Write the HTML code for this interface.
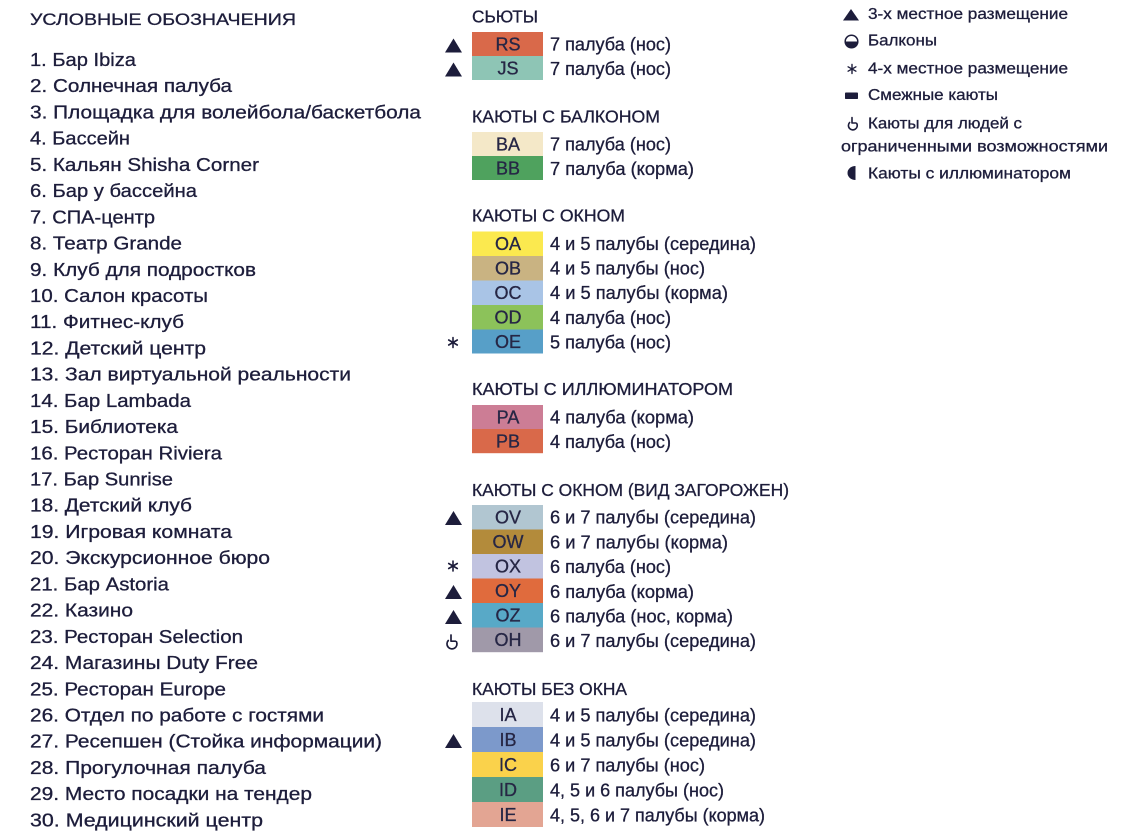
<!DOCTYPE html>
<html><head><meta charset="utf-8"><style>
html,body{margin:0;padding:0;background:#fff;}
svg{display:block;}
text{font-family:"Liberation Sans","DejaVu Sans",sans-serif;fill:#1d1d3b;stroke:#1d1d3b;stroke-width:0.3px;}
.l{font-size:18.5px;}
.t{font-size:16.5px;}
.h{font-size:17.5px;}
.b{font-size:18px;}
.c{font-size:18px;text-anchor:middle;fill:#262645;stroke:#262645;}
.r{font-size:16px;}
</style></head><body>
<svg width="1140" height="834" viewBox="0 0 1140 834" xmlns="http://www.w3.org/2000/svg">
<rect width="1140" height="834" fill="#fff"/>
<!-- LEFT COLUMN -->
<text class="t" x="30" y="25" textLength="266" lengthAdjust="spacingAndGlyphs">УСЛОВНЫЕ ОБОЗНАЧЕНИЯ</text>
<text class="l" x="30" y="66" textLength="106" lengthAdjust="spacingAndGlyphs">1. Бар Ibiza</text>
<text class="l" x="30" y="92.2" textLength="202" lengthAdjust="spacingAndGlyphs">2. Солнечная палуба</text>
<text class="l" x="30" y="118.4" textLength="391" lengthAdjust="spacingAndGlyphs">3. Площадка для волейбола/баскетбола</text>
<text class="l" x="30" y="144.7" textLength="100" lengthAdjust="spacingAndGlyphs">4. Бассейн</text>
<text class="l" x="30" y="170.9" textLength="229" lengthAdjust="spacingAndGlyphs">5. Кальян Shisha Corner</text>
<text class="l" x="30" y="197.1" textLength="167" lengthAdjust="spacingAndGlyphs">6. Бар у бассейна</text>
<text class="l" x="30" y="223.3" textLength="125" lengthAdjust="spacingAndGlyphs">7. СПА-центр</text>
<text class="l" x="30" y="249.5" textLength="152" lengthAdjust="spacingAndGlyphs">8. Театр Grande</text>
<text class="l" x="30" y="275.8" textLength="226" lengthAdjust="spacingAndGlyphs">9. Клуб для подростков</text>
<text class="l" x="30" y="302" textLength="178" lengthAdjust="spacingAndGlyphs">10. Салон красоты</text>
<text class="l" x="30" y="328.2" textLength="154" lengthAdjust="spacingAndGlyphs">11. Фитнес-клуб</text>
<text class="l" x="30" y="354.4" textLength="176" lengthAdjust="spacingAndGlyphs">12. Детский центр</text>
<text class="l" x="30" y="380.6" textLength="321" lengthAdjust="spacingAndGlyphs">13. Зал виртуальной реальности</text>
<text class="l" x="30" y="406.9" textLength="161" lengthAdjust="spacingAndGlyphs">14. Бар Lambada</text>
<text class="l" x="30" y="433.1" textLength="148" lengthAdjust="spacingAndGlyphs">15. Библиотека</text>
<text class="l" x="30" y="459.3" textLength="192" lengthAdjust="spacingAndGlyphs">16. Ресторан Riviera</text>
<text class="l" x="30" y="485.5" textLength="143" lengthAdjust="spacingAndGlyphs">17. Бар Sunrise</text>
<text class="l" x="30" y="511.7" textLength="162" lengthAdjust="spacingAndGlyphs">18. Детский клуб</text>
<text class="l" x="30" y="538" textLength="202" lengthAdjust="spacingAndGlyphs">19. Игровая комната</text>
<text class="l" x="30" y="564.2" textLength="240" lengthAdjust="spacingAndGlyphs">20. Экскурсионное бюро</text>
<text class="l" x="30" y="590.4" textLength="139" lengthAdjust="spacingAndGlyphs">21. Бар Astoria</text>
<text class="l" x="30" y="616.6" textLength="103" lengthAdjust="spacingAndGlyphs">22. Казино</text>
<text class="l" x="30" y="642.8" textLength="213" lengthAdjust="spacingAndGlyphs">23. Ресторан Selection</text>
<text class="l" x="30" y="669.1" textLength="228" lengthAdjust="spacingAndGlyphs">24. Магазины Duty Free</text>
<text class="l" x="30" y="695.3" textLength="196" lengthAdjust="spacingAndGlyphs">25. Ресторан Europe</text>
<text class="l" x="30" y="721.5" textLength="294" lengthAdjust="spacingAndGlyphs">26. Отдел по работе с гостями</text>
<text class="l" x="30" y="747.7" textLength="352" lengthAdjust="spacingAndGlyphs">27. Ресепшен (Стойка информации)</text>
<text class="l" x="30" y="773.9" textLength="236" lengthAdjust="spacingAndGlyphs">28. Прогулочная палуба</text>
<text class="l" x="30" y="800.2" textLength="282" lengthAdjust="spacingAndGlyphs">29. Место посадки на тендер</text>
<text class="l" x="30" y="826.4" textLength="233" lengthAdjust="spacingAndGlyphs">30. Медицинский центр</text>

<!-- MIDDLE COLUMN: headers -->
<text class="h" x="472" y="22.7" textLength="66" lengthAdjust="spacingAndGlyphs">СЬЮТЫ</text>
<text class="h" x="472" y="122.7" textLength="188" lengthAdjust="spacingAndGlyphs">КАЮТЫ С БАЛКОНОМ</text>
<text class="h" x="472" y="221.7" textLength="153" lengthAdjust="spacingAndGlyphs">КАЮТЫ С ОКНОМ</text>
<text class="h" x="472" y="395" textLength="261" lengthAdjust="spacingAndGlyphs">КАЮТЫ С ИЛЛЮМИНАТОРОМ</text>
<text class="h" x="472" y="496" textLength="317" lengthAdjust="spacingAndGlyphs">КАЮТЫ С ОКНОМ (ВИД ЗАГОРОЖЕН)</text>
<text class="h" x="472" y="695" textLength="155" lengthAdjust="spacingAndGlyphs">КАЮТЫ БЕЗ ОКНА</text>

<!-- Boxes -->
<g>
<rect x="472" y="32" width="71" height="24.2" fill="#d9694a"/>
<rect x="472" y="56" width="71" height="24" fill="#8ec5b5"/>

<rect x="472" y="132" width="71" height="24.2" fill="#f4e8c8"/>
<rect x="472" y="156" width="71" height="24" fill="#4fa25e"/>

<rect x="472" y="231.5" width="71" height="24.6" fill="#fbe94f"/>
<rect x="472" y="256" width="71" height="24.6" fill="#c9b382"/>
<rect x="472" y="280.5" width="71" height="24.6" fill="#a9c4e6"/>
<rect x="472" y="305" width="71" height="24.6" fill="#8cc25a"/>
<rect x="472" y="329.5" width="71" height="24" fill="#579fc8"/>

<rect x="472" y="405" width="71" height="24.2" fill="#cc7d95"/>
<rect x="472" y="429" width="71" height="24.2" fill="#d9694a"/>

<rect x="472" y="505" width="71" height="24.7" fill="#b1c6d1"/>
<rect x="472" y="529.5" width="71" height="24.7" fill="#b38b3b"/>
<rect x="472" y="554" width="71" height="24.7" fill="#c1c3e0"/>
<rect x="472" y="578.5" width="71" height="24.7" fill="#e06b3d"/>
<rect x="472" y="603" width="71" height="24.7" fill="#58a9c7"/>
<rect x="472" y="627.5" width="71" height="24.7" fill="#a099a9"/>

<rect x="472" y="702" width="71" height="25.2" fill="#dde1eb"/>
<rect x="472" y="727" width="71" height="25.2" fill="#7c99cb"/>
<rect x="472" y="752" width="71" height="25.2" fill="#fad24b"/>
<rect x="472" y="777" width="71" height="25.2" fill="#5b9e83"/>
<rect x="472" y="802" width="71" height="25" fill="#e3a593"/>
</g>

<!-- Box codes -->
<text class="c" x="508" y="50.5">RS</text>
<text class="c" x="508" y="74.5">JS</text>
<text class="c" x="508" y="150.5">BA</text>
<text class="c" x="508" y="174.5">BB</text>
<text class="c" x="508" y="250">OA</text>
<text class="c" x="508" y="274.5">OB</text>
<text class="c" x="508" y="299">OC</text>
<text class="c" x="508" y="323.5">OD</text>
<text class="c" x="508" y="348">OE</text>
<text class="c" x="508" y="423.3">PA</text>
<text class="c" x="508" y="447.5">PB</text>
<text class="c" x="508" y="523.5">OV</text>
<text class="c" x="508" y="548">OW</text>
<text class="c" x="508" y="572.5">OX</text>
<text class="c" x="508" y="597">OY</text>
<text class="c" x="508" y="621.5">OZ</text>
<text class="c" x="508" y="646">OH</text>
<text class="c" x="508" y="721">IA</text>
<text class="c" x="508" y="746">IB</text>
<text class="c" x="508" y="771">IC</text>
<text class="c" x="508" y="796">ID</text>
<text class="c" x="508" y="821">IE</text>

<!-- Row descriptions -->
<text class="b" x="550" y="50.7" textLength="121" lengthAdjust="spacingAndGlyphs">7 палуба (нос)</text>
<text class="b" x="550" y="75" textLength="121" lengthAdjust="spacingAndGlyphs">7 палуба (нос)</text>
<text class="b" x="550" y="150.7" textLength="121" lengthAdjust="spacingAndGlyphs">7 палуба (нос)</text>
<text class="b" x="550" y="175" textLength="144" lengthAdjust="spacingAndGlyphs">7 палуба (корма)</text>

<text class="b" x="550" y="250" textLength="206" lengthAdjust="spacingAndGlyphs">4 и 5 палубы (середина)</text>
<text class="b" x="550" y="274.6" textLength="155" lengthAdjust="spacingAndGlyphs">4 и 5 палубы (нос)</text>
<text class="b" x="550" y="299.2" textLength="178" lengthAdjust="spacingAndGlyphs">4 и 5 палубы (корма)</text>
<text class="b" x="550" y="323.8" textLength="121" lengthAdjust="spacingAndGlyphs">4 палуба (нос)</text>
<text class="b" x="550" y="348.4" textLength="121" lengthAdjust="spacingAndGlyphs">5 палуба (нос)</text>

<text class="b" x="550" y="423.3" textLength="144" lengthAdjust="spacingAndGlyphs">4 палуба (корма)</text>
<text class="b" x="550" y="447.8" textLength="121" lengthAdjust="spacingAndGlyphs">4 палуба (нос)</text>

<text class="b" x="550" y="523.7" textLength="206" lengthAdjust="spacingAndGlyphs">6 и 7 палубы (середина)</text>
<text class="b" x="550" y="548.4" textLength="178" lengthAdjust="spacingAndGlyphs">6 и 7 палубы (корма)</text>
<text class="b" x="550" y="573.1" textLength="121" lengthAdjust="spacingAndGlyphs">6 палуба (нос)</text>
<text class="b" x="550" y="597.8" textLength="144" lengthAdjust="spacingAndGlyphs">6 палуба (корма)</text>
<text class="b" x="550" y="622.5" textLength="183" lengthAdjust="spacingAndGlyphs">6 палуба (нос, корма)</text>
<text class="b" x="550" y="647.2" textLength="206" lengthAdjust="spacingAndGlyphs">6 и 7 палубы (середина)</text>

<text class="b" x="550" y="721.5" textLength="206" lengthAdjust="spacingAndGlyphs">4 и 5 палубы (середина)</text>
<text class="b" x="550" y="746.5" textLength="206" lengthAdjust="spacingAndGlyphs">4 и 5 палубы (середина)</text>
<text class="b" x="550" y="771.5" textLength="155" lengthAdjust="spacingAndGlyphs">6 и 7 палубы (нос)</text>
<text class="b" x="550" y="796.5" textLength="174" lengthAdjust="spacingAndGlyphs">4, 5 и 6 палубы (нос)</text>
<text class="b" x="550" y="821.5" textLength="215" lengthAdjust="spacingAndGlyphs">4, 5, 6 и 7 палубы (корма)</text>

<!-- Middle symbols -->
<g fill="#1d1d3b">
<polygon points="445,52.5 453.5,38.5 462,52.5"/>
<polygon points="445,76.5 453.5,62.5 462,76.5"/>
<polygon points="445,525 453.5,511 462,525"/>
<polygon points="445,599 453.5,585 462,599"/>
<polygon points="445,624 453.5,610 462,624"/>
<polygon points="445,748 453.5,734 462,748"/>
</g>
<g stroke="#1d1d3b" stroke-width="1.6" stroke-linecap="round">
<line x1="453" y1="337.5" x2="453" y2="347.5"/>
<line x1="448.7" y1="340" x2="457.3" y2="345"/>
<line x1="448.7" y1="345" x2="457.3" y2="340"/>
<line x1="453" y1="561" x2="453" y2="571"/>
<line x1="448.7" y1="563.5" x2="457.3" y2="568.5"/>
<line x1="448.7" y1="568.5" x2="457.3" y2="563.5"/>
</g>
<!-- accessibility icon (OH) -->
<g fill="none" stroke="#1d1d3b" stroke-width="1.7" stroke-linecap="round" stroke-linejoin="round">
<path d="M451,635 V641.2 H455.5"/>
<path d="M448.3,640.5 A5,5 0 1 0 456.5,641.8"/>
</g>

<!-- RIGHT COLUMN -->
<polygon points="843,20.5 851,9 859,20.5" fill="#1d1d3b"/>
<circle cx="851.5" cy="41.5" r="6.3" fill="none" stroke="#1d1d3b" stroke-width="1.5"/>
<path d="M845.2,41.5 A6.3,6.3 0 0 0 857.8,41.5 Z" fill="#1d1d3b"/>
<g stroke="#1d1d3b" stroke-width="1.4" stroke-linecap="round">
<line x1="852" y1="64.5" x2="852" y2="73.5"/>
<line x1="848.1" y1="66.8" x2="855.9" y2="71.2"/>
<line x1="848.1" y1="71.2" x2="855.9" y2="66.8"/>
</g>
<rect x="845" y="92.5" width="13" height="6.5" rx="0.8" fill="#1d1d3b"/>
<g fill="none" stroke="#1d1d3b" stroke-width="1.6" stroke-linecap="round" stroke-linejoin="round">
<path d="M852,117.5 V123 H856"/>
<path d="M849.6,122.5 A4.4,4.4 0 1 0 856.8,123.6"/>
</g>
<path d="M855.5,166 A8,7 0 0 0 855.5,180 Z" fill="#1d1d3b"/>

<text class="r" x="868" y="19" textLength="200" lengthAdjust="spacingAndGlyphs">3-х местное размещение</text>
<text class="r" x="868" y="45.7" textLength="69" lengthAdjust="spacingAndGlyphs">Балконы</text>
<text class="r" x="868" y="73.3" textLength="200" lengthAdjust="spacingAndGlyphs">4-х местное размещение</text>
<text class="r" x="868" y="100" textLength="130" lengthAdjust="spacingAndGlyphs">Смежные каюты</text>
<text class="r" x="868" y="128.3" textLength="154" lengthAdjust="spacingAndGlyphs">Каюты для людей с</text>
<text class="r" x="841" y="151.7" textLength="267" lengthAdjust="spacingAndGlyphs">ограниченными  возможностями</text>
<text class="r" x="868" y="178.3" textLength="203" lengthAdjust="spacingAndGlyphs">Каюты с иллюминатором</text>
</svg>
</body></html>
